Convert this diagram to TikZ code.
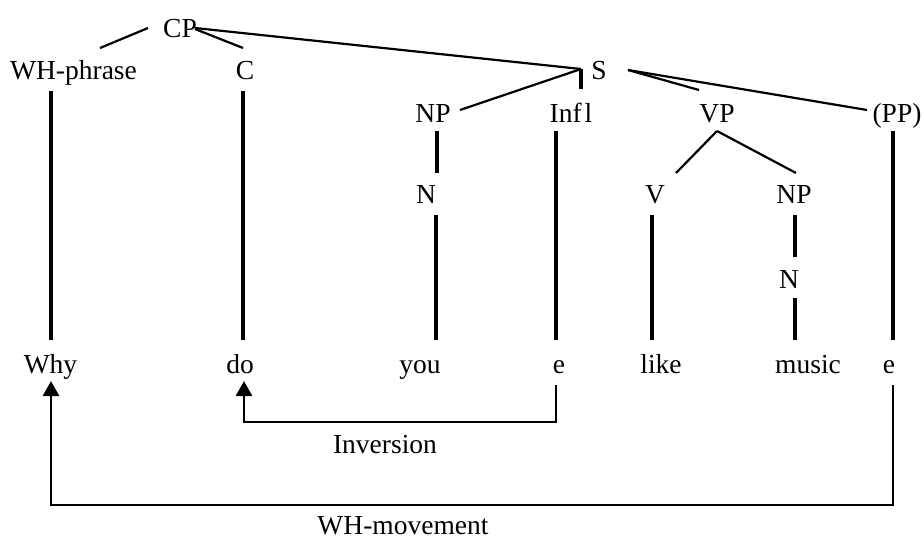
\documentclass[tikz,border=0pt]{standalone}
\usepackage{fontspec}
\setmainfont{Liberation Serif}
\usetikzlibrary{arrows.meta,calc}
\begin{document}
\begin{tikzpicture}[x=1pt,y=-1pt,
  lbl/.style={anchor=base,inner sep=0pt,font=\fontsize{27.5}{32}\selectfont},
  branch/.style={line width=2.2pt},
  stem/.style={line width=3.4pt},
  move/.style={line width=2.9pt},
  tip/.style={-{Triangle[length=15pt,width=16pt]}}]
\useasboundingbox[fill=white] (0,0) rectangle (924,539);
% tree labels
\node[lbl] (CP)   at (180,37)   {CP};
\node[lbl] (WH)   at (73.5,79)  {WH-phrase};
\node[lbl] (C)    at (245,79)   {C};
\node[lbl] (S)    at (599,79)   {S};
\node[lbl] (NPa)  at (433,122)  {NP};
\node[lbl] (Infl) at (571,122)  {Inf\kern3pt l};
\node[lbl] (VP)   at (717,122)  {VP};
\node[lbl] (PP)   at (897,122)  {(PP)};
\node[lbl] (Na)   at (426,203)  {N};
\node[lbl] (V)    at (655,203)  {V};
\node[lbl] (NPb)  at (794,203)  {NP};
\node[lbl] (Nb)   at (789,288)  {N};
% leaves
\node[lbl] (Why)   at (50.5,373) {Why};
\node[lbl] (do)    at (240,373)  {do};
\node[lbl] (you)   at (420,373)  {you};
\node[lbl] (eI)    at (559,373)  {e};
\node[lbl] (like)  at (661,373)  {like};
\node[lbl] (music) at (808,373)  {music};
\node[lbl] (eP)    at (889,373)  {e};
% movement labels
\node[lbl] (Inv) at (385,453) {Inversion};
\node[lbl] (WHm) at (403,534) {WH-movement};
% branches
\coordinate (Sj) at ($(S.base)+(-18,-10)$);
\coordinate (Sr) at ($(S.base)+(29,-9)$);
\coordinate (VPa) at ($(VP.base)+(0,9)$);
\draw[branch] ($(CP.base)+(-32,-9)$) -- ($(WH.base)+(26.5,-31)$);
\draw[branch] ($(CP.base)+(15,-8)$) -- ($(C.base)+(-2,-31)$);
\draw[branch] ($(CP.base)+(15,-9)$) -- (Sj);
\draw[branch] (Sj) -- ($(NPa.base)+(27,-12)$);
\draw[stem] (Sj) -- ++(0,20);
\draw[branch] (Sr) -- ($(VP.base)+(-18,-32)$);
\draw[branch] (Sr) -- ($(PP.base)+(-30,-12)$);
\draw[branch] (VPa) -- ($(V.base)+(21,-30)$);
\draw[branch] (VPa) -- ($(NPb.base)+(2,-30)$);
% stems
\draw[stem] ($(WH.base)+(-22.5,12)$) -- ++(0,249);
\draw[stem] ($(C.base)+(-2,12)$) -- ++(0,249);
\draw[stem] ($(NPa.base)+(4,9)$) -- ++(0,42);
\draw[stem] ($(Na.base)+(10,12)$) -- ++(0,125);
\draw[stem] ($(Infl.base)+(-15,9)$) -- ++(0,209);
\draw[stem] ($(V.base)+(-3,12)$) -- ++(0,125);
\draw[stem] ($(NPb.base)+(1,12)$) -- ++(0,42);
\draw[stem] ($(Nb.base)+(6,10)$) -- ++(0,42);
\draw[stem] ($(PP.base)+(-4,9)$) -- ++(0,209);
% movements
\draw[move,tip] ($(eI.base)+(-3,12)$) |- ($(do.base)+(4,49)$) -- ($(do.base)+(4,8)$);
\draw[move,tip] ($(eP.base)+(4,12)$) |- ($(Why.base)+(0.5,132)$) -- ($(Why.base)+(0.5,8)$);
\end{tikzpicture}
\end{document}
